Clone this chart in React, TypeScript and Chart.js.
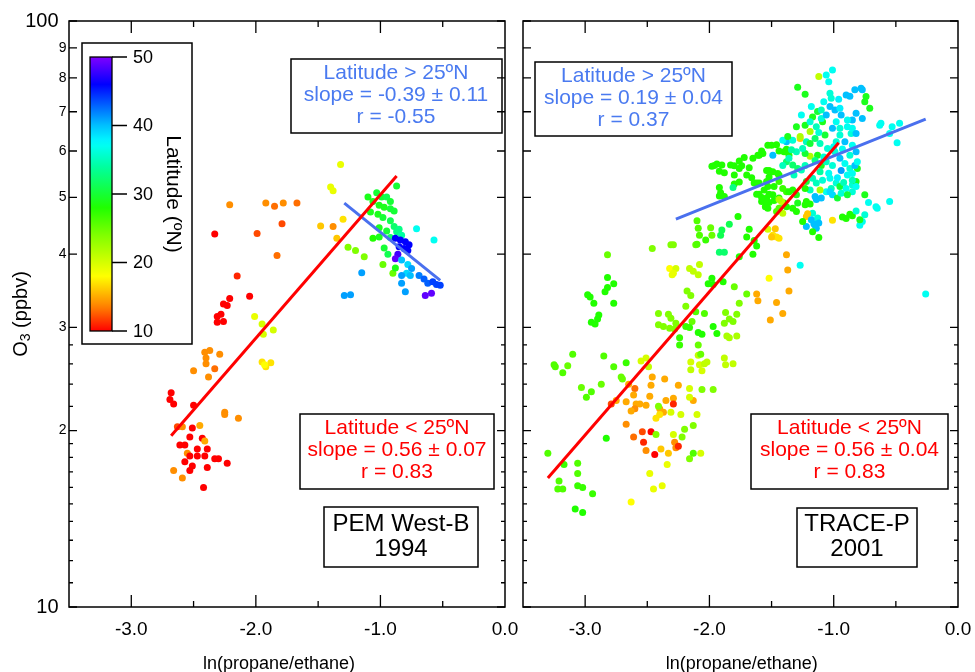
import { useEffect, useRef } from "react";
import { Chart, registerables } from "chart.js";

Chart.register(...registerables);

// [ln(propane/ethane), O3 (ppbv), latitude (°N)]
type Pt = [number, number, number];

const xMajorTicks = [-3, -2, -1];
const xMinorTicks = [-2.5, -1.5, -0.5];
const xLabelValues = [-3, -2, -1, 0];
const xTickLabels = ["-3.0", "-2.0", "-1.0", "0.0"];
const yLabelValues = [10, 20, 30, 40, 50, 60, 70, 80, 90, 100];
const yTickLabels = ["10", "2", "3", "4", "5", "6", "7", "8", "9", "100"];
const yMinorTicks = [11, 12, 13, 14, 15, 16, 17, 18, 19, 22, 24, 26, 28];
const latTicks = [10, 20, 30, 40, 50];

const pemPoints: Pt[] = [
  [-2.68, 23.2, 10], [-2.69, 22.6, 10], [-2.66, 22.2, 10], [-2.5, 22.1, 10],
  [-2.63, 20.3, 12], [-2.59, 20.3, 14], [-2.51, 20.2, 10], [-2.45, 20.4, 15],
  [-2.53, 19.5, 10], [-2.43, 19.4, 10], [-2.41, 19.2, 15], [-2.61, 18.9, 10],
  [-2.57, 18.9, 10], [-2.47, 18.6, 10], [-2.39, 18.6, 10], [-2.55, 18.3, 14],
  [-2.53, 18.1, 10], [-2.47, 18.1, 10], [-2.41, 18.1, 10], [-2.33, 17.9, 10],
  [-2.3, 17.9, 10], [-2.23, 17.6, 10], [-2.57, 17.7, 10], [-2.51, 17.4, 10],
  [-2.53, 17.1, 10], [-2.39, 17.3, 10], [-2.66, 17.1, 14], [-2.59, 16.6, 14],
  [-2.42, 16.0, 10],
  [-2.5, 25.3, 14], [-2.41, 27.2, 14], [-2.37, 27.4, 14], [-2.4, 26.6, 14],
  [-2.4, 26.0, 14], [-2.29, 27.0, 14], [-2.33, 25.5, 13], [-2.38, 24.7, 14],
  [-2.25, 21.5, 14], [-2.25, 21.3, 14], [-2.14, 21.0, 14],
  [-2.31, 31.3, 10], [-2.28, 31.6, 10], [-2.31, 30.6, 10], [-2.26, 30.7, 10],
  [-2.26, 32.9, 10], [-2.23, 32.7, 10], [-2.21, 33.6, 10], [-2.15, 36.7, 11],
  [-2.05, 33.9, 10], [-2.33, 43.3, 10],
  [-2.21, 48.6, 14], [-1.99, 43.4, 12], [-1.92, 48.9, 14], [-1.85, 48.3, 13],
  [-1.78, 48.9, 14], [-1.67, 48.9, 13], [-1.79, 45.1, 12], [-1.83, 39.8, 13],
  [-2.01, 31.3, 19], [-1.95, 30.4, 20], [-1.94, 29.2, 20], [-1.86, 29.7, 20],
  [-1.95, 26.2, 17], [-1.92, 25.7, 17], [-1.88, 26.1, 17], [-1.93, 25.9, 18],
  [-1.48, 44.7, 16], [-1.38, 44.6, 14], [-1.35, 42.6, 16], [-1.3, 45.9, 17],
  [-1.4, 52.1, 19], [-1.38, 51.3, 19], [-1.32, 56.9, 19],
  [-1.26, 41.1, 24], [-1.2, 40.6, 24], [-1.13, 39.6, 24], [-0.98, 38.4, 25],
  [-0.9, 37.1, 25],
  [-1.1, 50.1, 29], [-1.03, 50.9, 30], [-1.06, 49.2, 29], [-0.99, 50.1, 30],
  [-0.95, 50.1, 31], [-0.92, 49.2, 30], [-1.01, 48.5, 29], [-0.97, 48.1, 29],
  [-0.92, 47.8, 30], [-0.89, 47.4, 30], [-1.08, 47.2, 29], [-1.02, 46.8, 29],
  [-0.98, 46.2, 30], [-0.92, 45.6, 31], [-0.89, 44.6, 32], [-0.85, 44.1, 33],
  [-1.01, 44.4, 29], [-0.95, 43.8, 30], [-0.92, 42.7, 32], [-0.87, 43.7, 33],
  [-1.06, 42.6, 28], [-1.01, 42.8, 29], [-0.97, 41.0, 30], [-0.94, 40.0, 31],
  [-0.87, 52.3, 30], [-0.88, 37.9, 29], [-0.83, 43.1, 34], [-0.71, 44.2, 37],
  [-0.57, 42.3, 37],
  [-0.88, 42.6, 46], [-0.84, 42.3, 46], [-0.8, 42.0, 46], [-0.77, 41.5, 46],
  [-0.85, 41.2, 46], [-0.81, 40.9, 46], [-0.78, 40.6, 46],
  [-0.86, 40.0, 48], [-0.88, 39.3, 49],
  [-0.83, 39.1, 40], [-0.78, 38.4, 39], [-0.75, 37.8, 41], [-0.79, 37.1, 39],
  [-0.83, 36.8, 41], [-0.76, 36.8, 40],
  [-0.69, 36.8, 42], [-0.65, 36.3, 43], [-0.62, 35.7, 43], [-0.58, 35.9, 44],
  [-0.55, 35.5, 44], [-0.52, 35.4, 44],
  [-1.15, 37.2, 41], [-1.29, 34.0, 41], [-1.24, 34.1, 41], [-0.83, 35.7, 41],
  [-0.8, 34.5, 41], [-0.64, 34.0, 49], [-0.59, 34.3, 49],
];

const tracePoints: Pt[] = [
  [-3.3, 18.3, 26], [-3.25, 25.9, 26], [-3.24, 25.7, 26], [-3.18, 25.1, 26],
  [-3.14, 25.8, 25], [-3.1, 27.0, 26], [-3.17, 17.5, 27], [-3.06, 17.6, 26],
  [-3.06, 16.9, 26], [-3.21, 16.4, 26], [-3.18, 15.9, 26], [-3.22, 15.9, 26],
  [-3.06, 16.1, 27], [-3.02, 16.0, 27], [-2.94, 15.6, 27], [-3.08, 14.7, 28],
  [-3.02, 14.5, 28], [-3.03, 23.7, 25], [-2.99, 22.8, 26], [-2.95, 23.3, 26],
  [-2.87, 24.0, 25], [-2.85, 26.8, 26], [-2.77, 25.7, 26], [-2.71, 24.7, 25],
  [-2.7, 24.5, 25], [-2.67, 26.1, 27], [-2.83, 19.4, 28], [-2.79, 22.2, 12],
  [-2.75, 22.5, 15], [-2.67, 22.4, 15], [-2.65, 24.0, 15], [-2.6, 23.6, 13],
  [-2.61, 23.0, 15], [-2.59, 22.2, 15], [-2.56, 22.2, 15], [-2.6, 21.8, 14],
  [-2.51, 22.1, 15], [-2.63, 21.6, 15], [-2.48, 22.9, 15], [-2.46, 24.7, 15],
  [-2.47, 23.9, 15], [-2.36, 24.5, 15], [-2.25, 23.9, 15], [-2.35, 22.5, 15],
  [-2.29, 22.7, 15], [-2.29, 22.2, 11], [-2.4, 21.8, 15], [-2.37, 21.5, 15],
  [-2.43, 21.0, 17], [-2.4, 21.3, 17], [-2.41, 22.0, 24], [-2.31, 21.5, 20],
  [-2.23, 21.3, 20], [-2.13, 22.5, 15], [-2.16, 23.6, 20], [-2.16, 22.8, 20],
  [-2.1, 21.3, 20], [-2.67, 20.5, 14], [-2.61, 19.5, 13], [-2.54, 19.9, 12],
  [-2.53, 19.1, 11], [-2.47, 19.9, 10], [-2.51, 18.5, 14], [-2.44, 18.2, 10],
  [-2.43, 19.7, 24], [-2.39, 18.6, 16], [-2.33, 18.3, 16], [-2.28, 19.1, 14],
  [-2.27, 18.7, 14], [-2.25, 18.8, 11], [-2.29, 19.7, 20], [-2.22, 19.5, 24],
  [-2.2, 20.1, 24], [-2.13, 20.4, 24], [-2.16, 17.9, 24], [-2.13, 18.3, 26],
  [-2.07, 18.3, 20], [-2.34, 17.5, 19], [-2.48, 16.9, 19], [-2.45, 15.9, 19],
  [-2.38, 16.1, 19], [-2.63, 15.1, 18], [-2.06, 23.5, 24], [-1.97, 23.5, 24],
  [-2.15, 25.4, 21], [-2.15, 26.2, 20], [-2.08, 25.9, 20], [-2.04, 26.0, 21],
  [-2.02, 26.2, 21], [-2.09, 26.9, 21], [-2.06, 25.3, 20], [-2.55, 26.3, 20],
  [-2.51, 26.6, 20], [-2.49, 25.7, 21],
  [-2.98, 34.1, 28], [-2.96, 33.8, 28], [-2.93, 33.0, 28], [-2.95, 30.6, 28],
  [-2.92, 30.4, 28], [-2.89, 31.5, 28], [-2.9, 31.0, 28], [-2.82, 39.9, 25],
  [-2.82, 36.5, 28], [-2.82, 35.1, 28], [-2.84, 34.5, 28], [-2.77, 35.6, 28],
  [-2.77, 33.0, 28], [-2.46, 40.9, 24], [-2.31, 41.5, 24], [-2.29, 41.5, 24],
  [-2.32, 37.8, 18], [-2.3, 36.9, 19], [-2.27, 37.8, 20], [-2.29, 37.1, 19],
  [-2.16, 37.8, 21], [-2.13, 37.4, 21], [-2.08, 38.4, 21], [-2.09, 36.9, 21],
  [-2.18, 34.6, 24], [-2.15, 34.0, 24], [-2.19, 32.6, 24], [-2.11, 31.9, 26],
  [-2.04, 31.7, 26], [-2.14, 30.7, 25], [-2.27, 30.5, 24], [-2.41, 31.7, 24],
  [-2.33, 31.6, 24], [-2.31, 31.1, 24], [-2.41, 30.3, 24], [-2.37, 30.1, 24],
  [-2.32, 29.9, 24], [-2.28, 29.8, 24], [-2.19, 30.1, 27], [-2.16, 30.0, 27],
  [-2.24, 28.8, 27], [-2.24, 28.0, 27], [-2.09, 29.4, 28], [-2.06, 29.2, 28],
  [-2.09, 28.0, 25], [-2.07, 27.0, 25], [-1.97, 30.1, 28], [-1.94, 29.3, 28],
  [-1.98, 36.4, 28], [-2.01, 35.6, 28], [-1.97, 35.5, 28], [-1.89, 35.9, 28],
  [-1.87, 31.8, 24], [-1.84, 31.0, 24], [-1.88, 30.5, 24], [-1.81, 30.7, 24],
  [-1.84, 28.8, 22], [-1.78, 29.0, 22], [-1.86, 29.0, 22], [-1.88, 26.6, 21],
  [-1.81, 26.0, 21], [-1.87, 25.9, 21], [-1.8, 35.2, 25], [-1.76, 33.0, 24],
  [-1.78, 31.6, 24], [-1.7, 34.2, 25],
  [-2.1, 45.6, 26], [-2.09, 44.3, 26], [-2.08, 43.1, 26], [-2.11, 41.5, 25],
  [-2.1, 41.6, 26], [-1.99, 44.4, 25], [-1.98, 43.1, 25], [-2.03, 42.3, 27],
  [-1.91, 43.1, 31], [-1.9, 44.0, 31], [-1.84, 45.0, 31], [-1.92, 40.3, 32],
  [-1.88, 40.3, 32], [-1.77, 46.4, 28], [-1.76, 39.6, 28], [-1.68, 44.1, 28],
  [-1.7, 42.8, 28], [-1.65, 40.0, 28], [-1.62, 41.3, 28], [-1.64, 42.2, 28],
  [-1.53, 44.1, 20], [-1.49, 43.1, 17], [-1.46, 42.8, 17], [-1.44, 42.6, 17],
  [-1.5, 42.8, 16], [-1.47, 44.2, 16], [-1.38, 39.9, 15], [-1.37, 37.6, 15],
  [-1.36, 34.6, 15], [-1.52, 36.4, 18], [-1.62, 34.2, 15], [-1.61, 33.3, 15],
  [-1.46, 33.1, 15], [-1.41, 31.7, 15], [-1.51, 30.9, 15], [-1.27, 38.3, 37],
  [-0.26, 34.2, 37],
  [-1.98, 56.5, 28], [-1.94, 57.0, 28], [-1.9, 56.8, 28], [-1.88, 55.1, 28],
  [-1.92, 55.4, 28], [-1.96, 56.7, 28], [-1.83, 56.8, 28], [-1.8, 56.6, 28],
  [-1.76, 57.7, 28], [-1.72, 58.5, 28], [-1.74, 56.6, 28], [-1.68, 56.2, 28],
  [-1.92, 52.0, 28], [-1.91, 50.9, 28], [-1.88, 50.2, 28], [-1.92, 50.3, 28],
  [-1.8, 52.7, 28], [-1.76, 53.1, 28], [-1.8, 54.6, 28], [-1.81, 52.0, 33],
  [-1.6, 59.0, 28], [-1.57, 59.4, 28], [-1.58, 60.0, 28], [-1.62, 52.9, 28],
  [-1.56, 51.5, 28], [-1.6, 50.6, 28], [-1.54, 49.9, 28], [-1.52, 49.0, 28],
  [-1.5, 61.4, 28], [-1.46, 61.5, 28], [-1.44, 60.0, 28], [-1.54, 55.6, 28],
  [-1.49, 55.3, 28], [-1.45, 54.9, 28], [-1.52, 54.2, 28], [-1.4, 59.8, 28],
  [-1.36, 59.0, 28], [-1.38, 60.4, 28], [-1.38, 57.5, 32], [-1.33, 56.8, 32],
  [-1.29, 56.0, 32], [-1.32, 54.6, 35], [-1.26, 55.7, 35], [-1.23, 56.7, 35],
  [-1.44, 53.2, 27], [-1.41, 51.8, 27], [-1.38, 51.1, 27], [-1.48, 49.4, 28],
  [-1.44, 49.9, 28], [-1.4, 48.9, 28], [-1.53, 47.9, 28], [-1.55, 48.2, 28],
  [-1.58, 49.2, 28], [-1.42, 49.2, 21], [-1.36, 51.1, 28], [-1.33, 51.5, 28],
  [-1.3, 50.5, 29], [-1.29, 48.9, 29], [-1.22, 49.2, 28], [-1.23, 48.6, 28],
  [-1.19, 48.7, 28], [-1.17, 47.0, 36], [-1.13, 46.1, 36], [-1.22, 46.4, 16],
  [-1.21, 46.9, 16], [-1.18, 45.8, 40], [-1.16, 45.1, 40], [-1.22, 44.6, 40],
  [-1.14, 44.3, 40], [-1.12, 45.2, 40], [-1.15, 44.8, 40], [-1.17, 43.7, 28],
  [-1.12, 42.7, 28], [-1.01, 45.7, 17], [-0.93, 46.3, 28], [-0.87, 46.8, 28],
  [-0.9, 46.0, 28], [-0.85, 46.5, 28], [-0.82, 47.4, 36], [-0.79, 44.8, 37],
  [-0.77, 45.5, 37], [-0.75, 46.7, 36], [-0.79, 45.8, 29], [-0.72, 49.0, 37],
  [-0.66, 48.2, 37], [-0.65, 47.9, 37], [-0.55, 49.2, 37], [-0.75, 50.5, 29],
  [-0.85, 51.1, 36], [-0.85, 52.5, 36], [-0.82, 53.2, 29], [-0.81, 56.0, 29],
  [-0.63, 66.4, 37], [-0.62, 66.9, 37], [-0.55, 64.3, 37], [-0.53, 66.0, 37],
  [-0.47, 66.9, 37], [-0.49, 62.0, 37], [-1.12, 80.4, 21], [-1.06, 80.9, 37],
  [-1.01, 82.5, 37], [-1.04, 78.8, 37], [-1.29, 77.1, 29], [-1.23, 75.0, 29],
  [-1.03, 75.3, 36], [-1.02, 73.8, 36], [-0.9, 74.8, 40], [-0.87, 74.4, 40],
  [-0.83, 76.3, 40], [-0.78, 76.8, 40], [-0.77, 76.3, 40], [-0.74, 74.3, 29],
  [-0.75, 72.8, 29], [-0.71, 71.0, 29], [-0.82, 69.6, 40], [-0.85, 67.8, 40],
  [-0.77, 68.2, 40],
  [-1.26, 69.1, 37], [-1.18, 71.5, 37], [-1.17, 68.6, 29], [-1.13, 70.1, 30],
  [-1.1, 70.5, 35], [-1.09, 67.3, 29], [-1.03, 71.5, 40], [-0.99, 70.5, 40],
  [-0.95, 71.0, 38], [-0.94, 69.1, 40], [-0.98, 67.3, 37], [-1.01, 65.6, 40],
  [-0.95, 63.9, 36], [-0.89, 66.0, 37], [-0.86, 64.3, 36], [-0.91, 62.2, 40],
  [-1.23, 66.4, 29], [-1.19, 64.8, 22], [-1.27, 63.0, 16], [-1.3, 66.0, 29],
  [-1.22, 62.2, 35], [-1.15, 63.0, 32], [-1.11, 61.8, 35], [-1.07, 63.9, 30],
  [-1.05, 60.6, 36], [-0.99, 59.8, 36], [-1.13, 59.0, 29], [-1.19, 58.8, 22],
  [-1.23, 59.4, 30], [-1.3, 59.8, 35], [-1.36, 58.3, 35], [-1.41, 56.7, 35],
  [-1.38, 62.2, 40], [-1.41, 62.6, 37], [-1.49, 59.0, 40], [-1.53, 61.4, 28],
  [-1.1, 56.7, 29], [-1.06, 57.5, 35], [-1.01, 56.7, 36], [-0.95, 58.3, 40],
  [-0.91, 57.1, 37], [-0.87, 56.0, 36], [-0.94, 55.6, 41], [-0.89, 54.6, 37],
  [-0.85, 54.9, 37], [-0.83, 56.7, 40], [-1.11, 55.3, 34], [-1.17, 53.9, 35],
  [-1.22, 53.2, 30], [-1.09, 53.5, 36], [-1.03, 53.9, 37], [-0.98, 52.9, 36],
  [-1.02, 51.8, 35], [-1.06, 51.1, 37], [-0.95, 52.2, 30], [-1.11, 51.5, 22],
  [-1.14, 52.9, 35], [-1.19, 51.5, 35], [-1.15, 50.2, 40], [-1.1, 49.9, 40],
  [-1.14, 49.6, 40], [-1.03, 51.1, 39], [-1.01, 50.5, 39], [-0.97, 49.9, 30],
  [-0.94, 50.8, 36], [-0.9, 51.8, 37], [-0.82, 52.2, 37], [-0.85, 53.5, 35],
  [-0.89, 50.5, 30], [-1.33, 62.6, 36], [-1.25, 60.6, 35], [-1.34, 60.3, 34],
  [-1.37, 63.5, 29], [-1.27, 63.5, 22], [-1.19, 61.8, 30], [-1.1, 68.2, 36],
  [-1.06, 69.1, 40], [-1.19, 67.3, 36], [-1.14, 66.0, 35], [-0.95, 65.6, 36],
  [-0.89, 67.8, 37], [-0.85, 65.6, 37], [-0.82, 64.3, 40], [-0.98, 62.2, 36],
  [-0.85, 61.4, 37], [-0.87, 59.0, 36], [-0.82, 59.8, 40], [-0.81, 57.5, 37],
  [-1.52, 55.6, 28], [-1.54, 53.2, 28], [-1.53, 52.2, 28], [-1.48, 52.2, 28],
  [-1.44, 54.6, 28], [-1.61, 59.0, 28], [-1.65, 58.3, 28], [-1.6, 52.9, 28],
  [-1.62, 50.6, 28], [-1.58, 50.0, 28], [-1.55, 49.3, 28], [-1.52, 50.6, 28],
  [-1.44, 49.6, 22], [-1.46, 47.3, 26], [-1.44, 47.9, 26], [-1.41, 47.0, 21],
  [-1.33, 47.9, 28], [-1.3, 47.3, 28], [-1.38, 48.2, 28], [-1.25, 45.5, 28],
  [-1.23, 51.8, 28], [-1.49, 50.5, 28], [-1.66, 54.0, 28], [-1.64, 52.9, 28],
  [-1.7, 54.6, 28], [-1.76, 56.0, 28],
  [-1.08, 58.6, 36], [-1.04, 55.0, 37], [-0.97, 54.0, 38], [-1.0, 61.0, 37],
  [-1.12, 64.5, 36], [-0.93, 60.5, 37], [-1.08, 72.8, 37], [-0.96, 73.5, 38],
  [-1.15, 57.8, 33], [-0.92, 53.0, 35],
];

// regression lines, two ends each
const pemFitNorth = [[-1.29, 48.9], [-0.52, 36.1]];
const pemFitSouth = [[-2.68, 19.6], [-0.87, 54.4]];
const traceFitNorth = [[-2.27, 45.9], [-0.26, 68.0]];
const traceFitSouth = [[-3.3, 16.6], [-0.96, 62.0]];

const pemNorthText = ["Latitude > 25ºN", "slope = -0.39 ± 0.11", "r = -0.55"];
const pemSouthText = ["Latitude < 25ºN", "slope = 0.56 ± 0.07", "r = 0.83"];
const pemLabel = ["PEM West-B", "1994"];
const traceNorthText = ["Latitude > 25ºN", "slope = 0.19 ± 0.04", "r = 0.37"];
const traceSouthText = ["Latitude < 25ºN", "slope = 0.56 ± 0.04", "r = 0.83"];
const traceLabel = ["TRACE-P", "2001"];

const FONT = "'Liberation Sans', Arial, Helvetica, sans-serif";
const BLUE_TEXT = "#4a7af0";
const BLUE_LINE = "#4a70ee";
const RED = "#ff0000";

const colorStops: number[][] = [
  [10, 255, 0, 0],
  [13.5, 255, 128, 0],
  [18, 255, 255, 0],
  [24, 128, 255, 0],
  [28, 32, 255, 0],
  [34, 0, 255, 160],
  [37.5, 0, 255, 255],
  [40, 0, 192, 255],
  [46, 0, 0, 255],
  [50, 128, 0, 255],
];

function latColor(lat: number) {
  const v = Math.min(50, Math.max(10, lat));
  for (let i = 1; i < colorStops.length; i++) {
    const a = colorStops[i - 1];
    const b = colorStops[i];
    if (v <= b[0]) {
      const t = (v - a[0]) / (b[0] - a[0]);
      const c = [1, 2, 3].map((k) => Math.round(a[k] + (b[k] - a[k]) * t));
      return `rgb(${c[0]},${c[1]},${c[2]})`;
    }
  }
  return "rgb(128,0,255)";
}

type Box = {
  lines: string[];
  color: string;
  rect: [number, number, number, number];
  cx: number;
  firstY: number;
  step: number;
  size: number;
};

type Panel = {
  left: number;
  width: number;
  padding: { left: number; right: number; top: number; bottom: number };
  points: Pt[];
  fits: { pts: number[][]; color: string }[];
  boxes: Box[];
  titleX: number;
  leftAxis: boolean;
};

const panels: Panel[] = [
  {
    left: 0,
    width: 522,
    padding: { left: 69, right: 17, top: 21, bottom: 65 },
    points: pemPoints,
    fits: [
      { pts: pemFitSouth, color: RED },
      { pts: pemFitNorth, color: BLUE_LINE },
    ],
    boxes: [
      { lines: pemNorthText, color: BLUE_TEXT, rect: [291, 59, 502, 133], cx: 396, firstY: 73.5, step: 21.7, size: 21 },
      { lines: pemSouthText, color: RED, rect: [300, 414, 494, 489], cx: 397, firstY: 428.5, step: 21.7, size: 21 },
      { lines: pemLabel, color: "#000", rect: [324, 507, 478, 567], cx: 401, firstY: 524, step: 25, size: 24 },
    ],
    titleX: 279,
    leftAxis: true,
  },
  {
    left: 515,
    width: 460,
    padding: { left: 8, right: 17, top: 21, bottom: 65 },
    points: tracePoints,
    fits: [
      { pts: traceFitSouth, color: RED },
      { pts: traceFitNorth, color: BLUE_LINE },
    ],
    boxes: [
      { lines: traceNorthText, color: BLUE_TEXT, rect: [535, 62, 732, 136], cx: 633.5, firstY: 76.5, step: 21.7, size: 21 },
      { lines: traceSouthText, color: RED, rect: [751, 414, 948, 489], cx: 849.5, firstY: 428.5, step: 21.7, size: 21 },
      { lines: traceLabel, color: "#000", rect: [797, 508, 917, 567], cx: 857, firstY: 524, step: 25, size: 24 },
    ],
    titleX: 741.7,
    leftAxis: false,
  },
];

function overlay(panel: Panel) {
  return {
    id: "overlay",
    afterDraw(chart: any) {
      const { ctx, chartArea: a } = chart;
      const xs = chart.scales.x;
      const ys = chart.scales.y;
      const off = panel.left;
      ctx.save();

      // annotation boxes
      for (const b of panel.boxes) {
        const [x0, y0, x1, y1] = b.rect;
        ctx.fillStyle = "#fff";
        ctx.fillRect(x0 - off, y0, x1 - x0, y1 - y0);
        ctx.strokeStyle = "#000";
        ctx.lineWidth = 1.5;
        ctx.strokeRect(x0 - off, y0, x1 - x0, y1 - y0);
        ctx.fillStyle = b.color;
        ctx.font = `${b.size}px ${FONT}`;
        ctx.textAlign = "center";
        ctx.textBaseline = "middle";
        b.lines.forEach((t, i) => ctx.fillText(t, b.cx - off, b.firstY + i * b.step));
      }

      // frame with inward ticks on all sides
      ctx.strokeStyle = "#000";
      ctx.lineWidth = 1.5;
      ctx.strokeRect(a.left, a.top, a.right - a.left, a.bottom - a.top);
      ctx.lineWidth = 1.3;
      ctx.beginPath();
      const xTick = (v: number, len: number) => {
        const px = xs.getPixelForValue(v);
        ctx.moveTo(px, a.bottom);
        ctx.lineTo(px, a.bottom - len);
        ctx.moveTo(px, a.top);
        ctx.lineTo(px, a.top + len);
      };
      const yTick = (v: number, len: number) => {
        const py = ys.getPixelForValue(v);
        ctx.moveTo(a.left, py);
        ctx.lineTo(a.left + len, py);
        ctx.moveTo(a.right, py);
        ctx.lineTo(a.right - len, py);
      };
      xMajorTicks.forEach((v) => xTick(v, 12));
      xMinorTicks.forEach((v) => xTick(v, 6));
      yLabelValues.forEach((v) => yTick(v, 8));
      yMinorTicks.forEach((v) => yTick(v, 4));
      ctx.stroke();

      // x tick labels and title
      ctx.fillStyle = "#000";
      ctx.textAlign = "center";
      ctx.textBaseline = "alphabetic";
      ctx.font = `19px ${FONT}`;
      xLabelValues.forEach((v, i) => ctx.fillText(xTickLabels[i], xs.getPixelForValue(v), 635));
      ctx.font = `18px ${FONT}`;
      ctx.fillText("ln(propane/ethane)", panel.titleX - off, 669);

      if (panel.leftAxis) {
        // y tick labels
        ctx.textAlign = "right";
        ctx.textBaseline = "middle";
        yLabelValues.forEach((v, i) => {
          const big = v === 10 || v === 100;
          ctx.font = `${big ? 20 : 14}px ${FONT}`;
          ctx.fillText(yTickLabels[i], big ? 58.5 : 66.5, ys.getPixelForValue(v));
        });

        // y title with subscript
        ctx.save();
        ctx.translate(21, 314);
        ctx.rotate(-Math.PI / 2);
        ctx.textAlign = "left";
        ctx.font = `20px ${FONT}`;
        const wO = ctx.measureText("O").width;
        const rest = " (ppbv)";
        const wRest = ctx.measureText(rest).width;
        ctx.font = `14px ${FONT}`;
        const w3 = ctx.measureText("3").width;
        let x = -(wO + w3 + wRest) / 2;
        ctx.font = `20px ${FONT}`;
        ctx.fillText("O", x, 0);
        x += wO;
        ctx.font = `14px ${FONT}`;
        ctx.fillText("3", x, 5);
        x += w3;
        ctx.font = `20px ${FONT}`;
        ctx.fillText(rest, x, 0);
        ctx.restore();

        // colour bar legend
        const bx0 = 90, bx1 = 112, by0 = 57, by1 = 331;
        ctx.fillStyle = "#fff";
        ctx.fillRect(82, 43, 110, 301);
        ctx.strokeStyle = "#000";
        ctx.lineWidth = 1.5;
        ctx.strokeRect(82, 43, 110, 301);
        const grad = ctx.createLinearGradient(0, by1, 0, by0);
        for (let lat = 10; lat <= 50; lat += 1) grad.addColorStop((lat - 10) / 40, latColor(lat));
        ctx.fillStyle = grad;
        ctx.fillRect(bx0, by0, bx1 - bx0, by1 - by0);
        ctx.lineWidth = 1.3;
        ctx.strokeRect(bx0, by0, bx1 - bx0, by1 - by0);
        ctx.fillStyle = "#000";
        ctx.font = `18px ${FONT}`;
        ctx.textAlign = "left";
        ctx.textBaseline = "middle";
        ctx.beginPath();
        latTicks.forEach((lat) => {
          const py = by1 - ((lat - 10) / 40) * (by1 - by0);
          ctx.moveTo(bx1, py);
          ctx.lineTo(bx1 + 15, py);
          ctx.fillText(String(lat), 133, py + 1);
        });
        ctx.stroke();
        ctx.save();
        ctx.translate(173, 194);
        ctx.rotate(Math.PI / 2);
        ctx.textAlign = "center";
        ctx.font = `21px ${FONT}`;
        ctx.fillText("Latitude (ºN)", 0, 0);
        ctx.restore();
      }
      ctx.restore();
    },
  };
}

function PanelChart({ panel }: { panel: Panel }) {
  const canvasRef = useRef<HTMLCanvasElement>(null);

  useEffect(() => {
    const chart = new Chart(canvasRef.current!, {
      type: "scatter",
      data: {
        datasets: [
          ...panel.fits.map((f) => ({
            type: "line" as const,
            data: f.pts.map(([x, y]) => ({ x, y })),
            borderColor: f.color,
            borderWidth: 3,
            pointRadius: 0,
            fill: false,
            order: 0,
          })),
          {
            type: "scatter" as const,
            data: panel.points.map(([x, y]) => ({ x, y })),
            pointBackgroundColor: panel.points.map((p) => latColor(p[2])),
            pointBorderWidth: 0,
            pointRadius: 3.5,
            order: 1,
          },
        ],
      } as any,
      options: {
        animation: false,
        responsive: true,
        maintainAspectRatio: false,
        events: [],
        layout: { padding: panel.padding },
        plugins: {
          legend: { display: false },
          tooltip: { enabled: false },
        },
        scales: {
          x: { type: "linear", min: -3.5, max: 0, display: false },
          y: { type: "logarithmic", min: 10, max: 100, display: false },
        },
      },
      plugins: [overlay(panel)],
    });

    return () => chart.destroy();
  }, [panel]);

  return (
    <div
      style={{
        position: "absolute",
        left: panel.left,
        top: 0,
        width: panel.width,
        height: 672,
      }}
    >
      <canvas ref={canvasRef}></canvas>
    </div>
  );
}

export default function App() {
  return (
    <div style={{ position: "absolute", left: 0, top: 0, width: 975, height: 672, background: "#fff" }}>
      {panels.map((p, i) => (
        <PanelChart key={i} panel={p} />
      ))}
    </div>
  );
}
